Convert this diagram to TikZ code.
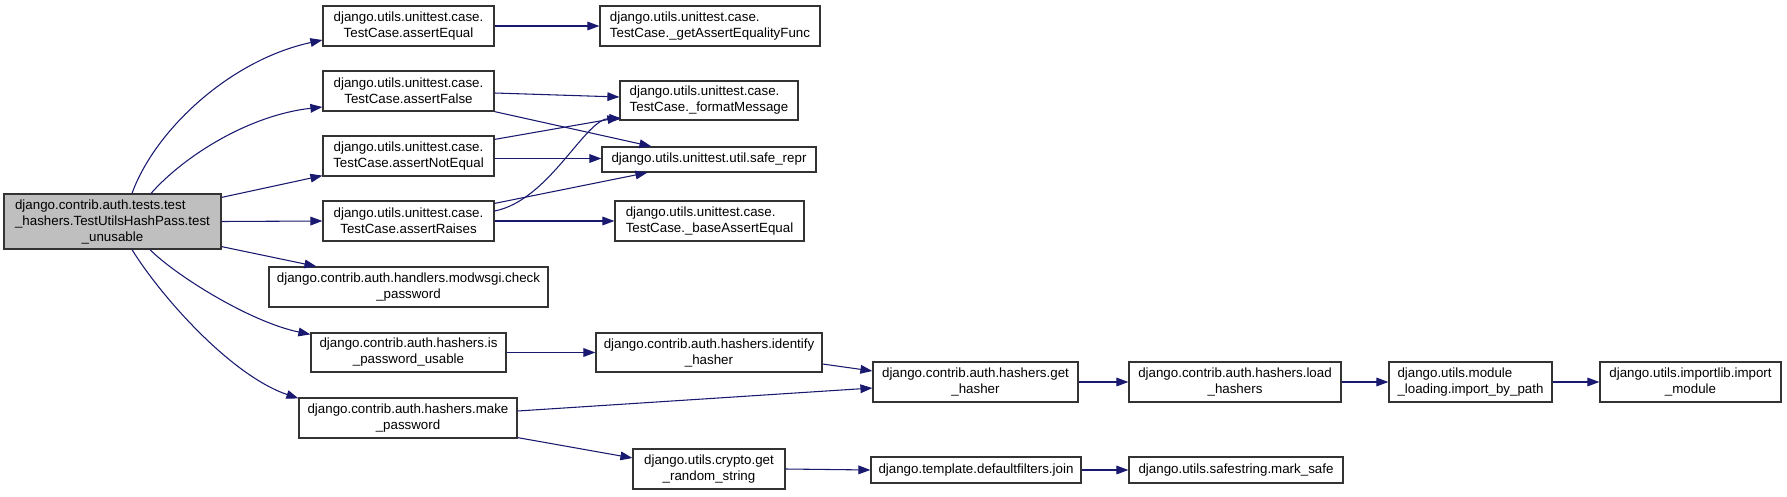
\documentclass[tikz,border=0pt]{standalone}
\usepackage{fontspec}
\setmainfont{Liberation Sans}
\usetikzlibrary{arrows.meta,calc}
\definecolor{edgec}{HTML}{191970}
\definecolor{rootfill}{HTML}{BFBFBF}
\newcommand\leftfirst[2]{\setbox0\hbox{#2}\makebox[\wd0][l]{#1}\\#2}
\newcommand\bx[7][]{\node[box,#1, minimum width={(#5-#3)*0.75pt}, minimum height={(#6-#4)*0.75pt}] (#2) at ({(#3+#5)/2},{(#4+#6)/2}) {#7};}
\tikzset{
  box/.style={draw=black!80, line width=0.9pt, fill=white, inner sep=0pt, align=center,
    font=\fontsize{10pt}{12pt}\selectfont},
  cedge/.style={draw=edgec, line width=0.8pt, -{Triangle[length=9pt,width=6.5pt]}, edgec}
}
\begin{document}
\begin{tikzpicture}[x=0.75pt,y=-0.75pt]
\useasboundingbox (0,0) rectangle (1787,496);
% nodes
\bx[fill=rootfill]{root}{4}{194}{221}{249}{\leftfirst{django.contrib.auth.tests.test}{\_hashers.TestUtilsHashPass.test}\\\_unusable}
\bx{aEq}{323}{6}{494}{46}{django.utils.unittest.case.\\TestCase.assertEqual}
\bx{gAEF}{600}{6}{820}{46}{\leftfirst{django.utils.unittest.case.}{TestCase.\_getAssertEqualityFunc}}
\bx{aFalse}{323}{71}{494}{111}{django.utils.unittest.case.\\TestCase.assertFalse}
\bx{fm}{620}{81}{798}{120}{\leftfirst{django.utils.unittest.case.}{TestCase.\_formatMessage}}
\bx{aNE}{323}{136}{494}{176}{django.utils.unittest.case.\\TestCase.assertNotEqual}
\bx{sr}{602}{147}{816}{172}{django.utils.unittest.util.safe\_repr}
\bx{aR}{323}{201}{494}{241}{django.utils.unittest.case.\\TestCase.assertRaises}
\bx{bAE}{615}{201}{804}{241}{\leftfirst{django.utils.unittest.case.}{TestCase.\_baseAssertEqual}}
\bx{cp}{269}{267}{548}{307}{django.contrib.auth.handlers.modwsgi.check\\\_password}
\bx{ipu}{311}{333}{506}{372}{django.contrib.auth.hashers.is\\\_password\_usable}
\bx{ih}{596}{333}{822}{372}{django.contrib.auth.hashers.identify\\\_hasher}
\bx{mp}{299}{398}{517}{438}{django.contrib.auth.hashers.make\\\_password}
\bx{grs}{633}{449}{785}{489}{django.utils.crypto.get\\\_random\_string}
\bx{gh}{873}{362}{1078}{402}{django.contrib.auth.hashers.get\\\_hasher}
\bx{lh}{1129}{362}{1341}{402}{django.contrib.auth.hashers.load\\\_hashers}
\bx{ibp}{1389}{362}{1552}{402}{\leftfirst{django.utils.module}{\_loading.import\_by\_path}}
\bx{im}{1600}{362}{1781}{402}{django.utils.importlib.import\\\_module}
\bx{join}{871}{457}{1081}{483}{django.template.defaultfilters.join}
\bx{ms}{1129}{457}{1343}{483}{django.utils.safestring.mark\_safe}
% edges from root
\draw[cedge] ($(root.north)+(19.5,0)$) .. controls (155,130) and (230,60) .. ($(aEq.west)+(0,14)$);
\draw[cedge] ($(root.north)+(38.5,0)$) .. controls (185,155) and (250,115) .. ($(aFalse.west)+(0,16)$);
\draw[cedge] ($(root.north east)+(0,4)$) -- ($(aNE.south west)+(0,-1)$);
\draw[cedge] (root.east) -- (aR.west);
\draw[cedge] ($(root.south east)+(0,-3)$) -- ($(cp.north west)+(48,0)$);
\draw[cedge] ($(root.south)+(37.5,0)$) .. controls (175,275) and (250,322) .. ($(ipu.north west)+(0,2)$);
\draw[cedge] ($(root.south)+(19.5,0)$) .. controls (160,295) and (230,375) .. ($(mp.north west)+(0,1)$);
% unittest edges
\draw[cedge] (aEq.east) -- (gAEF.west);
\draw[cedge] ($(aFalse.east)+(0,2)$) -- ($(fm.west)+(0,-3.5)$);
\draw[cedge] (aFalse.south east) -- ($(sr.north west)+(50,0)$);
\draw[cedge] ($(aNE.north east)+(0,4)$) -- ($(fm.south west)+(0,-3)$);
\draw[cedge] ($(aNE.east)+(0,2.5)$) -- ($(sr.west)+(0,-1)$);
\draw[cedge] ($(aR.east)+(0,-10)$) .. controls (550,200) and (585,118) .. ($(fm.south west)+(2,-2)$);
\draw[cedge] ($(aR.north east)+(0,3)$) -- ($(sr.south west)+(46,0)$);
\draw[cedge] (aR.east) -- (bAE.west);
% hashers edges
\draw[cedge] (ipu.east) -- (ih.west);
\draw[cedge] ($(ih.east)+(0,11.5)$) -- ($(gh.west)+(0,-11)$);
\draw[cedge] ($(mp.east)+(0,-7)$) -- ($(gh.west)+(0,6)$);
\draw[cedge] ($(mp.south east)+(0,-1)$) -- ($(grs.west)+(0,-11)$);
\draw[cedge] (grs.east) -- (join.west);
\draw[cedge] (join.east) -- (ms.west);
\draw[cedge] (gh.east) -- (lh.west);
\draw[cedge] (lh.east) -- (ibp.west);
\draw[cedge] (ibp.east) -- (im.west);
\end{tikzpicture}
\end{document}
